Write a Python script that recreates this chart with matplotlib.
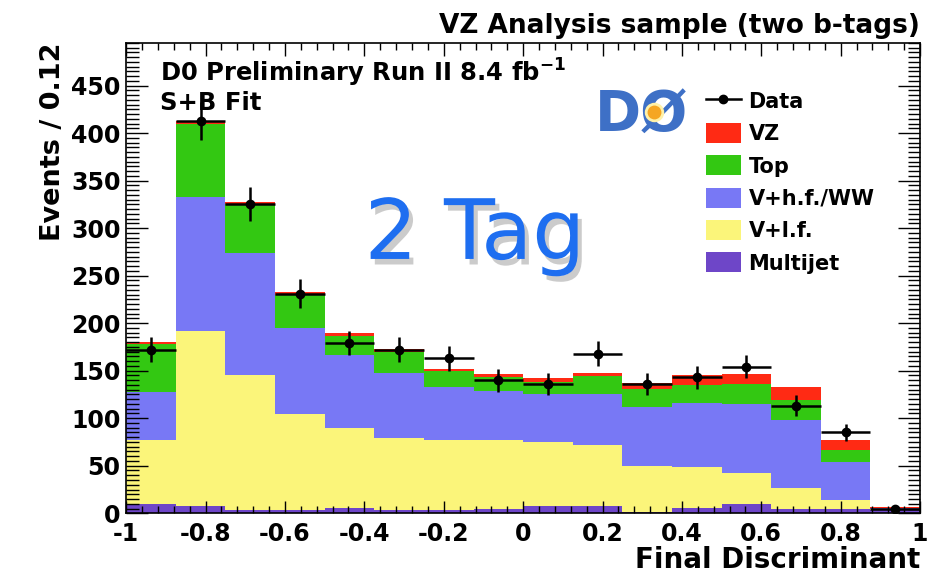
import numpy as np
import matplotlib.pyplot as plt
import matplotlib.patheffects as pe
from matplotlib.patches import Patch
from matplotlib.lines import Line2D
from matplotlib.ticker import MultipleLocator, FuncFormatter

plt.rcParams['font.family'] = ['DejaVu Sans']
plt.rcParams['font.weight'] = 'bold'

# bin edges of the final discriminant
edges = [-1.0, -0.875, -0.75, -0.625, -0.5, -0.375, -0.25, -0.125, 0.0,
         0.125, 0.25, 0.375, 0.5, 0.625, 0.75, 0.875, 1.0]

# background / signal components (events per bin), stacked bottom -> top
multijet = [10, 8, 3, 3, 6, 3, 3, 5, 8, 8, 1, 6, 10, 5, 4, 3]
vlf      = [67, 184, 142, 101, 84, 76, 74, 72, 67, 64, 49, 43, 32, 22, 10, 1]
vhf_ww   = [51, 141, 129, 91, 76, 69, 56, 52, 50, 54, 62, 67, 73, 71, 40, 1.5]
top      = [50, 77, 51, 35, 21, 22, 17, 14, 13, 18, 19, 19, 21, 21, 13, 0.3]
vz       = [2, 3, 3, 3, 3, 3, 2, 4, 4, 4, 6, 10, 10, 14, 10, 0.3]

data     = [172, 413, 325, 231, 179, 172, 163, 140, 136, 168, 136, 143, 154, 113, 85, 5]
data_err = [13, 20, 18, 15, 13, 13, 13, 12, 12, 13, 12, 12, 12, 11, 9, 2]

names  = ['Multijet', 'V+l.f.', 'V+h.f./WW', 'Top', 'VZ']
series = [multijet, vlf, vhf_ww, top, vz]
colors = ['#6e46c8', '#fbf57a', '#7878f5', '#33c812', '#ff2a14']

edges = np.array(edges)
widths = np.diff(edges)
centers = edges[:-1] + widths / 2

fig, ax = plt.subplots(figsize=(9.35, 5.78), dpi=100)
fig.subplots_adjust(left=0.135, right=0.984, bottom=0.112, top=0.926)

bottom = np.zeros(len(widths))
for name, vals, col in zip(names, series, colors):
    vals = np.array(vals, dtype=float)
    ax.bar(edges[:-1], vals, width=widths, align='edge', bottom=bottom,
           color=col, linewidth=0)
    bottom += vals

ax.errorbar(centers, data, xerr=widths / 2, yerr=data_err, fmt='o',
            color='black', ms=6, lw=1.8, capsize=0, zorder=5)

ax.set_xlim(-1, 1)
ax.set_ylim(0, 495)
ax.xaxis.set_major_locator(MultipleLocator(0.2))
ax.xaxis.set_minor_locator(MultipleLocator(0.04))
ax.yaxis.set_major_locator(MultipleLocator(50))
ax.yaxis.set_minor_locator(MultipleLocator(5))


def fmt(v, pos):
    if abs(v) < 1e-9:
        return '0'
    return f'{round(v, 2):g}'


ax.xaxis.set_major_formatter(FuncFormatter(fmt))
ax.tick_params(which='both', direction='in', top=True, right=True,
               labelsize=17, width=1.0)
ax.tick_params(axis='x', which='major', length=9, pad=6)
ax.tick_params(axis='x', which='minor', length=5)
ax.tick_params(axis='y', which='major', length=16, pad=4)
ax.tick_params(axis='y', which='minor', length=9)
for s in ax.spines.values():
    s.set_linewidth(1.2)

ax.set_xlabel('Final Discriminant', loc='right', fontsize=20,
              fontweight='bold', labelpad=0)
ax.set_ylabel('Events / 0.12', loc='top', fontsize=19.5,
              fontweight='bold', labelpad=4)
ax.set_title('VZ Analysis sample (two b-tags)', loc='right', fontsize=19,
             fontweight='bold', pad=7)

ax.text(0.043, 0.917, 'D0 Preliminary Run II 8.4 fb$^{\\mathbf{-1}}$',
        transform=ax.transAxes, fontsize=17.5, va='baseline')
ax.text(0.043, 0.857, 'S+B Fit', transform=ax.transAxes, fontsize=17.5,
        va='baseline')

# D0 logo stand-in
fig.text(0.636, 0.775, 'DØ', fontsize=40, color='#3e70c6')
fig.add_artist(Line2D([0.699], [0.807], marker='o', ms=12, lw=0,
                      color='#f5a623', markeredgecolor='#fff1a8',
                      markeredgewidth=2, zorder=10))

# handwritten-style annotation
fig.text(0.508, 0.552, '2 Tag', fontsize=60, color='#1e6ef0',
         weight='normal', ha='center', va='baseline',
         path_effects=[pe.withSimplePatchShadow(offset=(3, -4),
                                                shadow_rgbFace='#555555',
                                                alpha=0.3)])

handles = [Line2D([], [], color='black', marker='o', ms=6, lw=1.8)]
labels = ['Data']
for name, col in reversed(list(zip(names, colors))):
    handles.append(Patch(facecolor=col, edgecolor='none'))
    labels.append(name)
ax.legend(handles, labels, loc='upper left', bbox_to_anchor=(0.73, 0.898),
          frameon=False, fontsize=15, handlelength=1.7, handleheight=1.1,
          labelspacing=0.54, handletextpad=0.35, borderpad=0,
          borderaxespad=0)

fig.savefig('out.png', dpi=100)
